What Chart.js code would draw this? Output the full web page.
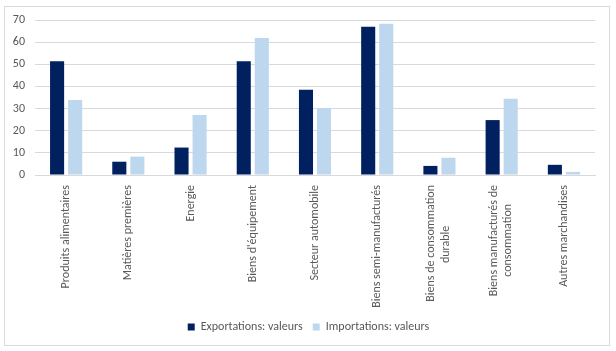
<!DOCTYPE html>
<html>
<head>
<meta charset="utf-8">
<script src="https://cdn.jsdelivr.net/npm/chart.js@4/dist/chart.umd.min.js"></script>
<style>
  html, body { margin: 0; padding: 0; background: #fff; }
  #frame {
    position: absolute; left: 4px; top: 6px;
    width: 606px; height: 340px;
    border: 1px solid #d9d9d9; box-sizing: border-box;
  }
  #wrap { position: absolute; left: 0; top: 0; width: 616px; height: 351px; }
</style>
</head>
<body>
<div id="frame"></div>
<div id="wrap"><canvas id="chart" width="616" height="351"></canvas></div>
<script>
// Categories (multi-line labels as arrays)
const categories = [
  "Produits alimentaires",
  "Matières premières",
  "Energie",
  "Biens d'équipement",
  "Secteur automobile",
  "Biens semi-manufacturés",
  ["Biens de consommation", "durable"],
  ["Biens manufacturés de", "consommation"],
  "Autres marchandises"
];

// Series values
const exportValues = [51.4, 6.0, 12.4, 51.4, 38.5, 67.0, 4.1, 24.8, 4.6];
const importValues = [33.9, 8.3, 27.1, 61.9, 30.3, 68.3, 7.8, 34.4, 1.4];

const seriesNames = ["Exportations: valeurs", "Importations: valeurs"];

// Y axis ticks
const yTicks = [0, 10, 20, 30, 40, 50, 60, 70];

const textColor = "#595959";
const gridColor = "#d9d9d9";
const fontFamily = "Calibri, Carlito, sans-serif";
const fontSize = 12;

// Centre the lines of a multi-line label (Excel centres them) by padding with spaces
const measure = document.createElement("canvas").getContext("2d");
measure.font = fontSize + "px " + fontFamily;
function centreLines(label) {
  if (!Array.isArray(label)) return label;
  const space = measure.measureText("\u00a0").width;
  const widths = label.map(l => measure.measureText(l).width);
  const maxW = Math.max(...widths);
  return label.map((l, i) => l + "\u00a0".repeat(Math.round((maxW - widths[i]) / 2 / space)));
}

// Chart.js puts the first line of a rotated label on the tick; Excel centres the block
function centreMultiLine(scale) {
  if (scale._centred) return;
  const orig = scale._computeLabelItems;
  scale._computeLabelItems = function (area) {
    const items = orig.call(this, area);
    items.forEach(it => {
      if (Array.isArray(it.label)) {
        it.options.translation[0] -= (it.label.length - 1) * 8;
      }
    });
    return items;
  };
  scale._centred = true;
}

// Shift the legend a little to the right, like the original
const legendShift = {
  id: "legendShift",
  afterLayout(chart) {
    chart.legend.left += 6;
    chart.legend.right += 6;
  }
};

const ctx = document.getElementById("chart").getContext("2d");

new Chart(ctx, {
  type: "bar",
  data: {
    labels: categories,
    datasets: [
      {
        label: seriesNames[0],
        data: exportValues,
        backgroundColor: "#002060",
        categoryPercentage: 0.58,
        barPercentage: 0.78
      },
      {
        label: seriesNames[1],
        data: importValues,
        backgroundColor: "#bdd7ee",
        categoryPercentage: 0.58,
        barPercentage: 0.78
      }
    ]
  },
  plugins: [legendShift],
  options: {
    responsive: false,
    animation: false,
    layout: { padding: { left: 10, right: 21, top: 20, bottom: 8 } },
    plugins: {
      legend: {
        position: "bottom",
        labels: {
          boxWidth: 7,
          boxHeight: 7,
          padding: 10,
          color: textColor,
          font: { family: fontFamily, size: fontSize }
        }
      },
      tooltip: { enabled: false }
    },
    scales: {
      x: {
        grid: { display: false, drawTicks: false },
        border: { display: true, color: gridColor },
        ticks: {
          color: textColor,
          font: { family: fontFamily, size: fontSize },
          maxRotation: 90,
          minRotation: 90,
          padding: 10,
          autoSkip: false,
          callback: function (value) { return centreLines(this.getLabelForValue(value)); }
        },
        afterFit: scale => { scale.height = 136; },
        afterUpdate: centreMultiLine
      },
      y: {
        min: 0,
        max: 70,
        afterBuildTicks: scale => { scale.ticks = yTicks.map(v => ({ value: v })); },
        grid: { color: gridColor, drawTicks: false },
        border: { display: false },
        ticks: {
          color: textColor,
          font: { family: fontFamily, size: fontSize },
          padding: 10
        },
        afterFit: scale => { scale.width = 25; }
      }
    }
  }
});
</script>
</body>
</html>
